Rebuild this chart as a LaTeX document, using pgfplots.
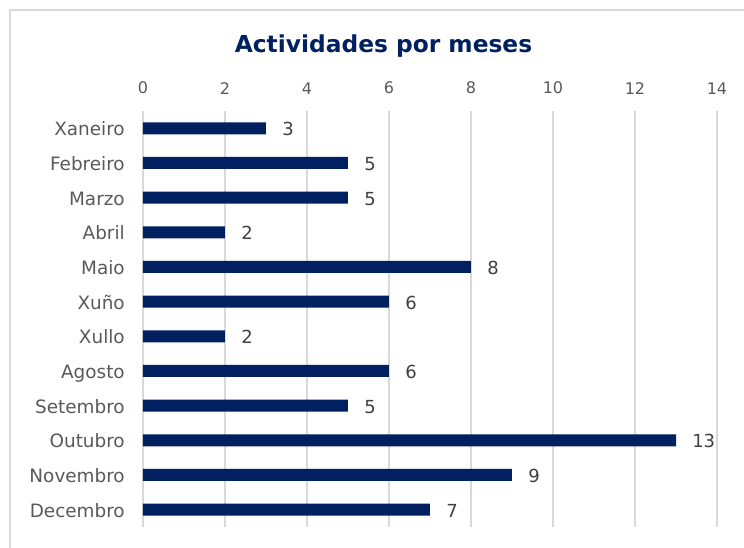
\documentclass[border=0pt]{standalone}
\usepackage{pgfplots}
\pgfplotsset{compat=1.18}
\usepackage{fontspec}
\setmainfont{DejaVu Sans}
\definecolor{navy}{HTML}{002060}
\definecolor{lblgray}{HTML}{595959}
\definecolor{datgray}{HTML}{404040}
\definecolor{gridgray}{HTML}{D9D9D9}
\begin{document}
\begin{tikzpicture}[x=0.75pt,y=-0.75pt]
\useasboundingbox (0,0) rectangle (744,548);
\draw[gridgray, line width=1.5pt] (10,548) -- (10,10) -- (744,10);
\node[text=navy, font=\fontsize{17.5}{20}\selectfont\bfseries] at (383.5,46) {Actividades por meses};
\begin{axis}[
  at={(107.25pt,-83.25pt)}, anchor=north west,
  width=430.5pt, height=312pt, scale only axis,
  xbar, bar width=9pt,
  xmin=0, xmax=14, xtick={0,2,...,14},
  ymin=-0.5, ymax=11.5, y dir=reverse,
  ytick={0,...,11},
  yticklabels={Xaneiro,Febreiro,Marzo,Abril,Maio,Xuño,Xullo,Agosto,Setembro,Outubro,Novembro,Decembro},
  xticklabel pos=right,
  axis line style={draw=none},
  tick style={draw=none},
  major tick length=0pt,
  xmajorgrids, major grid style={gridgray, line width=0.9pt},
  /pgf/number format/assume math mode=true,
  xticklabel style={font=\fontsize{12}{14}\selectfont, text=lblgray, anchor=south, inner sep=0pt, yshift=12.5pt},
  yticklabel style={font=\fontsize{13.8}{16}\selectfont, text=lblgray, anchor=east, inner sep=0pt, xshift=-13.5pt, yshift=-3pt, text height=0.73em, text depth=0.22em},
  nodes near coords,
  nodes near coords style={font=\fontsize{13.5}{16}\selectfont, text=datgray, anchor=west, inner sep=0pt, xshift=12pt, yshift=-3pt, text height=0.73em, text depth=0.22em},
  clip=false,
]
\addplot[fill=navy, draw=none] coordinates {
(3,0) (5,1) (5,2) (2,3) (8,4) (6,5) (2,6) (6,7) (5,8) (13,9) (9,10) (7,11)
};
\end{axis}
\end{tikzpicture}
\end{document}
